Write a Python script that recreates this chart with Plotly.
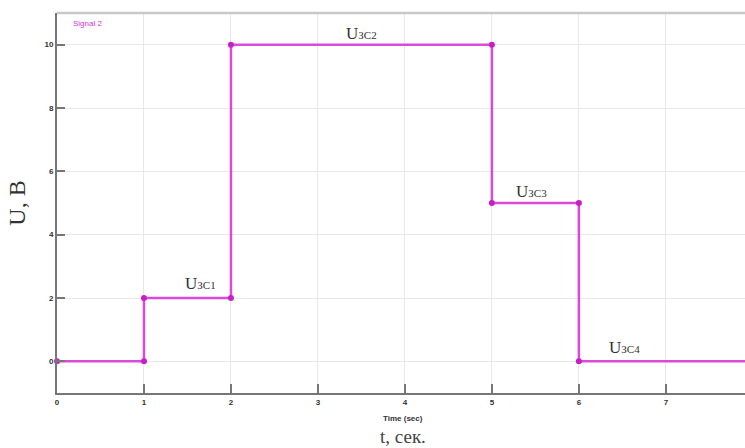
import plotly.graph_objects as go

# Data
t_vals = [0, 1, 1, 2, 2, 5, 5, 6, 6, 8]
u_vals = [0, 0, 2, 2, 10, 10, 5, 5, 0, 0]
marker_t = [0, 1, 1, 2, 2, 5, 5, 6, 6]
marker_u = [0, 0, 2, 2, 10, 10, 5, 5, 0]
x_ticks = [0, 1, 2, 3, 4, 5, 6, 7]
y_ticks = [0, 2, 4, 6, 8, 10]
seg_labels = ["ЗС1", "ЗС2", "ЗС3", "ЗС4"]
seg_label_x = [1.65, 3.5, 5.45, 6.52]
seg_label_y = [2.45, 10.35, 5.35, 0.45]

fig = go.Figure()
fig.add_trace(go.Scatter(x=t_vals, y=u_vals, mode="lines",
                         line=dict(color="#d94ad9", width=2.5),
                         hoverinfo="skip", showlegend=False))
fig.add_trace(go.Scatter(x=marker_t, y=marker_u, mode="markers",
                         marker=dict(color="#c81ec8", size=6),
                         cliponaxis=False,
                         hoverinfo="skip", showlegend=False))

for lab, lx, ly in zip(seg_labels, seg_label_x, seg_label_y):
    fig.add_annotation(x=lx, y=ly, xref="x", yref="y",
                       text="U<span style='font-size:11px'>" + lab + "</span>",
                       showarrow=False,
                       font=dict(family="Liberation Serif", size=17, color="#333"))

fig.add_annotation(x=0.02, y=1.0, xref="paper", yref="paper", xanchor="left", yanchor="top",
                   yshift=-4, text="Signal 2", showarrow=False,
                   font=dict(family="Liberation Sans", size=8, color="#d633d6"))

fig.add_annotation(x=0.503, y=0, xref="paper", yref="paper", yanchor="middle", yshift=-25,
                   text="<b>Time (sec)</b>", showarrow=False,
                   font=dict(family="Liberation Sans", size=8, color="#333"))
fig.add_annotation(x=0.503, y=0, xref="paper", yref="paper", yanchor="middle", yshift=-43,
                   text="t, сек.", showarrow=False,
                   font=dict(family="Liberation Serif", size=19, color="#444"))

fig.add_shape(type="line", xref="paper", yref="paper", x0=0, x1=1, y0=1, y1=1,
              line=dict(color="#c8c8c8", width=2.5))

fig.update_layout(
    width=745, height=448,
    margin=dict(l=57, r=0, t=13, b=55),
    paper_bgcolor="white", plot_bgcolor="white",
    xaxis=dict(range=[0, 7.91], tickvals=x_ticks, ticks="inside", ticklen=9,
               tickcolor="#777", tickwidth=1.5,
               showgrid=True, gridcolor="#e8e8e8", gridwidth=1,
               showline=True, linecolor="#777", linewidth=2,
               zeroline=False,
               tickfont=dict(family="Liberation Sans", size=8, color="#333", weight="bold")),
    yaxis=dict(range=[-1, 11], tickvals=y_ticks, ticks="inside", ticklen=8,
               tickcolor="#777", tickwidth=1.5,
               showgrid=True, gridcolor="#e8e8e8", gridwidth=1,
               showline=True, linecolor="#777", linewidth=2,
               zeroline=False,
               tickfont=dict(family="Liberation Sans", size=8, color="#333", weight="bold"),
               title=dict(text="U, B", font=dict(family="Liberation Serif", size=24, color="#333"),
                          standoff=12)),
)

fig.write_html("out.html")
